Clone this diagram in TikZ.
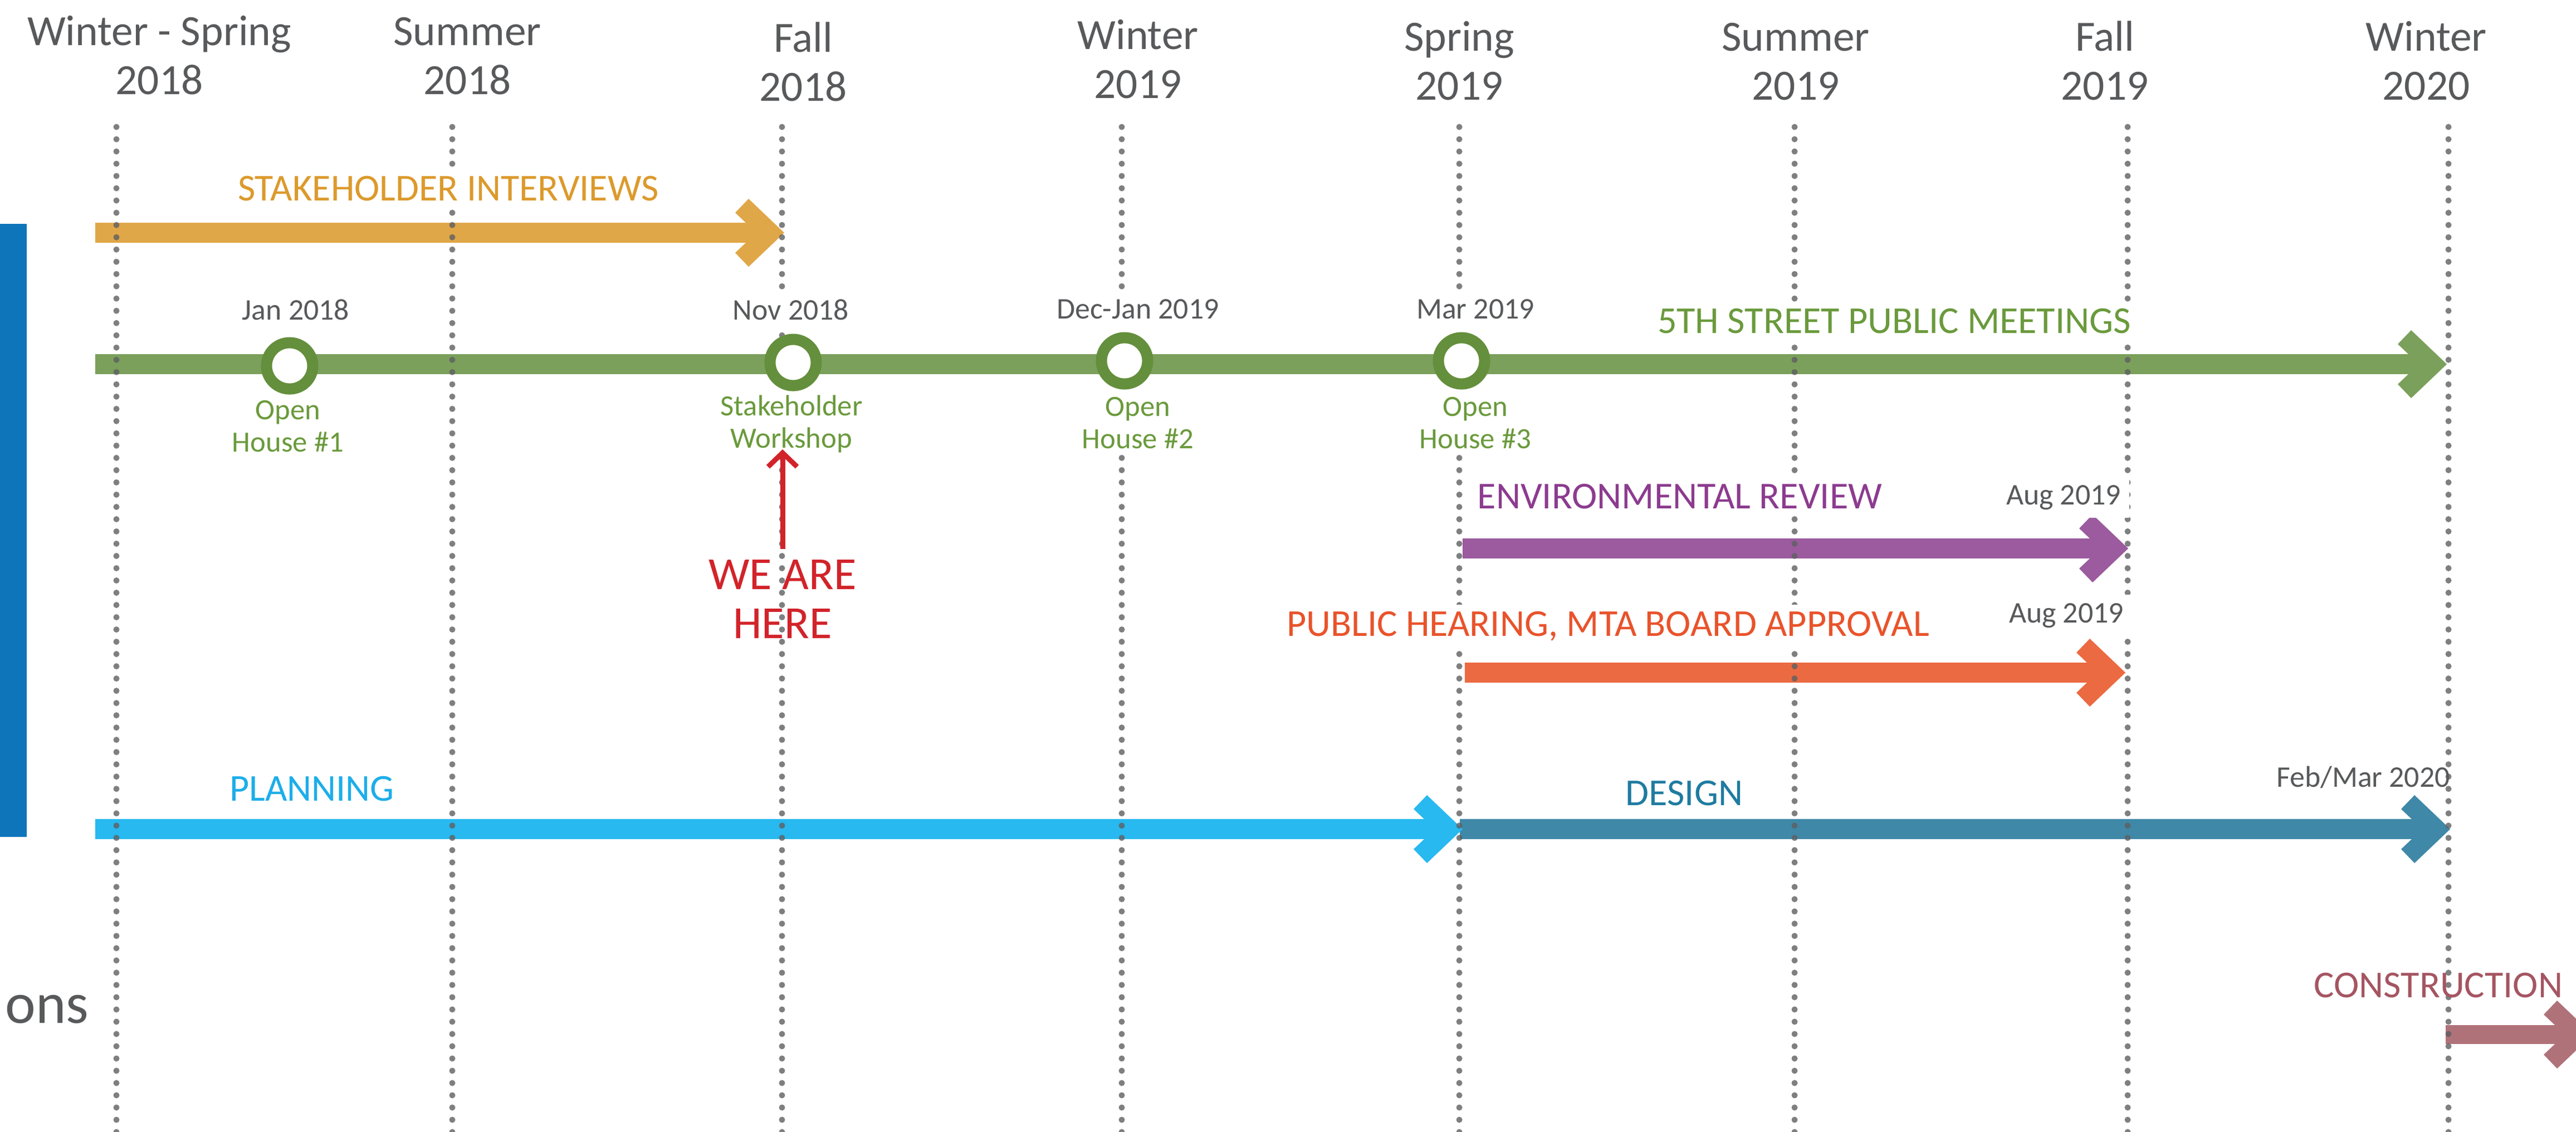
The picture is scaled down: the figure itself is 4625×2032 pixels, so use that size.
\documentclass[tikz,border=0pt]{standalone}
\usepackage{fontspec}
\setmainfont{Carlito}
\usetikzlibrary{arrows.meta}
\definecolor{txtgray}{HTML}{58595B}
\definecolor{dotgray}{HTML}{5E5F62}
\definecolor{sibar}{HTML}{E0A748}
\definecolor{sitext}{HTML}{DC9A2C}
\definecolor{pmbar}{HTML}{7BA05B}
\definecolor{pmring}{HTML}{648F3C}
\definecolor{pmtext}{HTML}{6A9A3C}
\definecolor{erbar}{HTML}{9B5B9E}
\definecolor{ertext}{HTML}{8C3B8F}
\definecolor{phbar}{HTML}{EB6A42}
\definecolor{phtext}{HTML}{E9532B}
\definecolor{plbar}{HTML}{27B9EF}
\definecolor{pltext}{HTML}{1DAEE9}
\definecolor{dsbar}{HTML}{3F88A7}
\definecolor{dstext}{HTML}{1F7BA0}
\definecolor{csbar}{HTML}{B07279}
\definecolor{cstext}{HTML}{A55562}
\definecolor{sidebar}{HTML}{0E75BB}
\definecolor{herered}{HTML}{D2232A}
\begin{document}
\begin{tikzpicture}[x=0.01cm, y=-0.01cm,
  season/.style={align=center, anchor=base, inner sep=0pt, text=txtgray, font=\fontsize{22}{24.75}\selectfont},
  stage/.style={anchor=base, inner sep=0.12cm, fill=white, font=\fontsize{19.4}{22}\selectfont},
  date/.style={anchor=base, inner sep=0.15cm, fill=white, text=txtgray, font=\fontsize{15.3}{18}\selectfont},
  caption/.style={align=center, anchor=base, inner sep=0.1cm, fill=white, text=pmtext, font=\fontsize{15}{16.5}\selectfont},
  milestone/.style={circle, draw=pmring, line width=0.2cm, fill=white, minimum size=0.83cm, inner sep=0pt},
  bar/.style={line width=0.36cm, shorten >=0.4cm},
  guide/.style={draw=dotgray, opacity=0.8, line width=0.11cm, line cap=round, dash pattern=on 0pt off 0.22cm},
  chevron/.pic={\path[pic actions] (0,0) -- (-64,-61) -- (-88,-36) -- (-50,0) -- (-88,36) -- (-64,61) -- cycle;}]
\useasboundingbox (0,0) rectangle (4625,2032);
\clip (0,0) rectangle (4625,2032);
\fill[sidebar] (0,402) rectangle (48,1503);
\node[anchor=base west, inner sep=0pt, text=txtgray, font=\fontsize{29.5}{36}\selectfont] (ons) at (9,1837) {ons};
\coordinate (si0) at (171,418);
\coordinate (si1) at (1408,418);
\draw[bar, sibar] (si0) -- (si1);
\pic[fill=sibar] at (si1) {chevron};
\coordinate (pm0) at (171,654);
\coordinate (pm1) at (4393,654);
\draw[bar, pmbar] (pm0) -- (pm1);
\pic[fill=pmbar] at (pm1) {chevron};
\coordinate (er0) at (2626,985);
\coordinate (er1) at (3821,985);
\draw[bar, erbar] (er0) -- (er1);
\pic[fill=erbar] at (er1) {chevron};
\coordinate (ph0) at (2630,1208);
\coordinate (ph1) at (3816,1208);
\draw[bar, phbar] (ph0) -- (ph1);
\pic[fill=phbar] at (ph1) {chevron};
\coordinate (ds0) at (2621,1489);
\coordinate (ds1) at (4399,1489);
\draw[bar, dsbar] (ds0) -- (ds1);
\pic[fill=dsbar] at (ds1) {chevron};
\coordinate (pl0) at (171,1489);
\coordinate (pl1) at (2626,1489);
\draw[bar, plbar] (pl0) -- (pl1);
\pic[fill=plbar] at (pl1) {chevron};
\coordinate (cs0) at (4391,1858);
\coordinate (cs1) at (4655,1858);
\draw[bar, csbar, line width=0.34cm] (cs0) -- (cs1);
\pic[fill=csbar] at (cs1) {chevron};
\foreach \x in {209,812,1404,2014,2620,3222,3820,4396}
  \draw[guide] (\x,228) -- (\x,2040);
\node[season] (hdr0) at (286,169) {Winter - Spring\\2018};
\node[season] (hdr1) at (839,169) {Summer\\2018};
\node[season] (hdr2) at (1442,181) {Fall\\2018};
\node[season] (hdr3) at (2043,176) {Winter\\2019};
\node[season] (hdr4) at (2620,179) {Spring\\2019};
\node[season] (hdr5) at (3224,179) {Summer\\2019};
\node[season] (hdr6) at (3779,179) {Fall\\2019};
\node[season] (hdr7) at (4356,179) {Winter\\2020};
\node[stage, text=sitext] (si) at (805,360) {STAKEHOLDER INTERVIEWS};
\node[stage, text=pmtext] (pm) at (3401,598) {5TH STREET PUBLIC MEETINGS};
\node[stage, text=ertext] (er) at (3016,913) {ENVIRONMENTAL REVIEW};
\node[stage, text=phtext] (ph) at (2887,1142) {PUBLIC HEARING, MTA BOARD APPROVAL};
\node[stage, text=pltext] (pl) at (560,1438) {PLANNING};
\node[stage, text=dstext] (ds) at (3024,1446) {DESIGN};
\node[stage, text=cstext, fill=none] (cs) at (4378,1791) {CONSTRUCTION};
\node[date] (dt0) at (531,574) {Jan 2018};
\node[date] (dt1) at (1420,574) {Nov 2018};
\node[date] (dt2) at (2043,572) {Dec-Jan 2019};
\node[date] (dt3) at (2649,572) {Mar 2019};
\node[date] (er-end) at (3705,906) {Aug 2019};
\node[date] (ph-end) at (3710,1118) {Aug 2019};
\node[date, fill=none] (ds-end) at (4243,1413) {Feb/Mar 2020};
\node[caption] (cap0) at (517,811) {Open\\House \#1};
\node[caption] (cap1) at (1421,804) {Stakeholder\\Workshop};
\node[caption] (cap2) at (2043,805) {Open\\House \#2};
\node[caption] (cap3) at (2649,805) {Open\\House \#3};
\node[milestone] (ms0) at (520,657) {};
\node[milestone] (ms1) at (1424,651) {};
\node[milestone] (ms2) at (2019,648) {};
\node[milestone] (ms3) at (2624,648) {};
\node[align=center, anchor=base, inner sep=0pt, outer ysep=0.2cm, text=herered, font=\fontsize{23.5}{24.75}\selectfont] (here) at (1405,1146) {WE ARE\\HERE};
\coordinate (here-tip) at (1405,807);
\draw[herered, line width=0.09cm, -{Straight Barb[length=0.25cm, width=0.52cm]}] (here.north) -- (here-tip);

\end{tikzpicture}
\end{document}
